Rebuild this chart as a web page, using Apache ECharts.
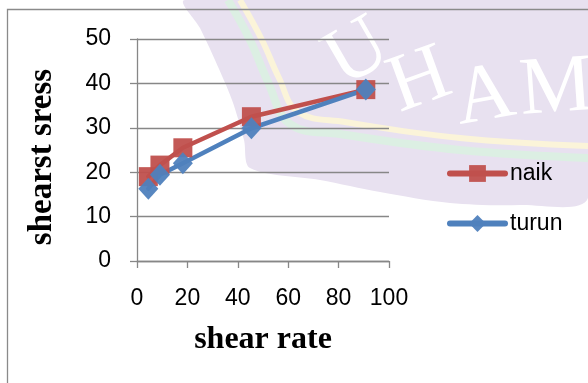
<!DOCTYPE html>
<html>
<head>
<meta charset="utf-8">
<script src="https://cdn.jsdelivr.net/npm/echarts@6/dist/echarts.min.js"></script>
<style>
html,body{margin:0;padding:0;background:#fff;}
#c{width:588px;height:383px;}
</style>
</head>
<body>
<div id="c"></div>
<script>
var shearRate = [4.5, 9.1, 18.2, 45.4, 90.8];
var naik = [19.0, 21.6, 25.5, 32.5, 38.6];
var turun = [16.3, 19.4, 22.0, 29.9, 38.6];
var xTicks = [0, 20, 40, 60, 80, 100];
var yTicks = [0, 10, 20, 30, 40, 50];

function pairs(xs, ys) { return xs.map(function (x, i) { return [x, ys[i]]; }); }

var chart = echarts.init(document.getElementById('c'), null, {renderer: 'canvas'});
var axisGray = '#878787';
var tickFont = {fontFamily: 'Liberation Sans', fontSize: 23, color: '#000'};
var wmFont = '82px "Liberation Serif"';

function wmLetter(ch, x, y, deg) {
  return {type: 'text', z: -8, silent: true, x: x, y: y, rotation: -deg * Math.PI / 180,
    style: {text: ch, fill: '#ffffff', font: wmFont, align: 'center', verticalAlign: 'middle'}};
}

chart.setOption({
  animation: false,
  backgroundColor: '#fff',
  graphic: [
    {type: 'polygon', z: -10, silent: true,
     shape: {points: [[185,0],[588,0],[588,198],[520,205],[450,203],[380,192],[320,180],[250,168],[244,140],[232,100],[215,60],[200,28]], smooth: 0.3},
     style: {fill: '#e8e1f0'}},
    {type: 'polyline', z: -9, silent: true,
     shape: {points: [[228,0],[250,40],[268,82],[290,124],[340,134],[460,150],[588,158]], smooth: 0.4},
     style: {stroke: '#dcefe3', lineWidth: 8}},
    {type: 'polyline', z: -9, silent: true,
     shape: {points: [[240,0],[262,40],[279,78],[298,112],[345,122],[460,138],[588,146]], smooth: 0.4},
     style: {stroke: '#fbf4d9', lineWidth: 6}},
    wmLetter('U', 358, 54, -30),
    wmLetter('H', 420, 82, -20),
    wmLetter('A', 485, 98, -10),
    wmLetter('M', 556, 90, -4),
    {type: 'rect', z: 10, silent: true,
     shape: {x: 7.5, y: 9.5, width: 700, height: 500},
     style: {fill: null, stroke: '#8a8a8a', lineWidth: 1.3}}
  ],
  grid: {left: 137, top: 39, width: 252, height: 222, containLabel: false},
  legend: {
    orient: 'vertical', left: 442, top: 157, itemWidth: 55, itemHeight: 21, itemGap: 27,
    lineStyle: {width: 6, cap: 'round'},
    textStyle: {fontFamily: 'Liberation Sans', fontSize: 23, color: '#000'},
    data: ['naik', 'turun']
  },
  xAxis: {
    type: 'value', min: 0, max: 100, interval: 20,
    name: 'shear rate', nameLocation: 'middle', nameGap: 63,
    nameTextStyle: {fontFamily: 'Liberation Serif', fontWeight: 'bold', fontSize: 32, color: '#000'},
    axisLine: {show: true, lineStyle: {color: axisGray, width: 1.3}},
    axisTick: {show: true, length: 7, lineStyle: {color: axisGray, width: 1.3}},
    splitLine: {show: false},
    axisLabel: Object.assign({margin: 26, formatter: function (v) { return xTicks.indexOf(v) >= 0 ? String(v) : ''; }}, tickFont)
  },
  yAxis: {
    type: 'value', min: 0, max: 50, interval: 10,
    name: 'shearst sress', nameLocation: 'middle', nameGap: 78,
    nameTextStyle: {fontFamily: 'Liberation Serif', fontWeight: 'bold', fontSize: 33, color: '#000', padding: [0, 14, 0, 0]},
    axisLine: {show: true, lineStyle: {color: axisGray, width: 1.3}},
    axisTick: {show: true, length: 7, lineStyle: {color: axisGray, width: 1.3}},
    splitLine: {show: true, lineStyle: {color: axisGray, width: 1.3}},
    axisLabel: Object.assign({margin: 26, formatter: function (v) { return yTicks.indexOf(v) >= 0 ? String(v) : ''; }}, tickFont)
  },
  series: [
    {name: 'naik', type: 'line', data: pairs(shearRate, naik),
     symbol: 'rect', symbolSize: 19, showAllSymbol: true,
     lineStyle: {color: '#c0504d', width: 4.5, cap: 'round', join: 'round'},
     itemStyle: {color: '#c0504d', opacity: 0.95}},
    {name: 'turun', type: 'line', data: pairs(shearRate, turun),
     symbol: 'diamond', symbolSize: [20, 22], showAllSymbol: true,
     lineStyle: {color: '#4f81bd', width: 4.5, cap: 'round', join: 'round'},
     itemStyle: {color: '#4f81bd', opacity: 0.95}}
  ]
});
</script>
</body>
</html>
